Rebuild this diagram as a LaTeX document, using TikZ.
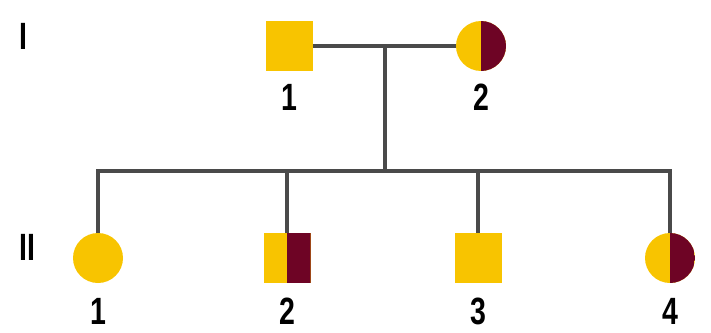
\documentclass[tikz,border=0pt]{standalone}
\usepackage{fontspec}
\setmainfont{Liberation Sans}
\newfontfamily\gennum[FakeStretch=0.75]{Liberation Sans}
\usetikzlibrary{positioning}
\usepackage{xcolor}
\definecolor{carrier}{HTML}{F8C400}
\definecolor{affected}{HTML}{6E0425}
\definecolor{linegray}{HTML}{4A4A4A}

\tikzset{
  male/.style={rectangle, minimum width=23.5pt, minimum height=25pt, fill=carrier, inner sep=0pt},
  female/.style={circle, minimum size=25pt, fill=carrier, inner sep=0pt},
  halfright/.style={path picture={\fill[affected] (path picture bounding box.north) rectangle (path picture bounding box.south east);}},
  num/.style={font=\gennum\bfseries\fontsize{19}{19}\selectfont, inner sep=0pt},
  link/.style={draw=linegray, line width=1.8pt}
}

\begin{document}
\begin{tikzpicture}[x=0.5pt, y=-0.5pt]
        \useasboundingbox (0,0) rectangle (711,332);

        % generation I
        \node[num] (genI) at (23,36) {I};
        \node[male] (f) at (289,46) {};
        \node[female, halfright] (m) at (481,46) {};
        \node[num] (fnum) at (289,97) {1};
        \node[num] (mnum) at (481,97) {2};

        % generation II
        \node[num] (genII) at (27,247) {II};
        \node[female] (c1) at (98,258) {};
        \node[male, halfright] (c2) at (287,258) {};
        \node[male] (c3) at (478,258) {};
        \node[female, halfright] (c4) at (670,258) {};
        \foreach \n in {1,2,3,4}
            \node[num] (c\n num) at (c\n |- 0,311) {\n};

        % connectors
        \coordinate (mid) at (385,46);
        \coordinate (sib) at (385,171);
        \draw[link] (f) -- (m);
        \draw[link] (mid) -- (sib);
        \draw[link] (c1.north) -- (c1.north |- sib) -- (c4.north |- sib) -- (c4.north);
        \foreach \n in {2,3}
            \draw[link] (c\n.north) -- (c\n.north |- sib);

    \end{tikzpicture}
\end{document}
